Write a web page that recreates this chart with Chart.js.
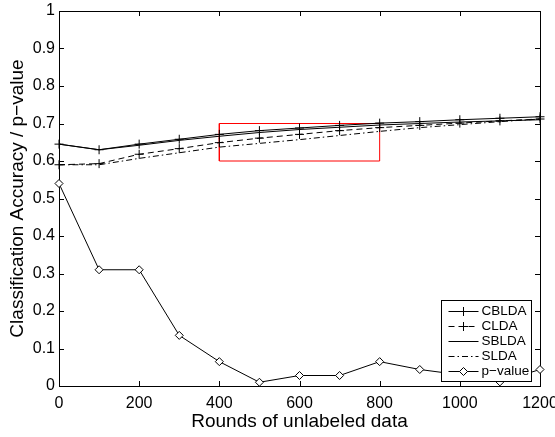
<!DOCTYPE html>
<html lang="en">
  <head>
    <meta charset="UTF-8" />
    <title>Classification Accuracy</title>
    <script src="https://cdn.jsdelivr.net/npm/chart.js"></script>
    <style>
      html, body { margin: 0; padding: 0; background: #fff; }
      #wrap { width: 555px; height: 437px; }
    </style>
  </head>
  <body>
    <div id="wrap"><canvas id="chart"></canvas></div>

    <script>
      // values
      const rounds = [0, 100, 200, 300, 400, 500, 600, 700, 800, 900, 1000, 1100, 1200];
      const cblda = [0.645, 0.630, 0.645, 0.658, 0.671, 0.681, 0.688, 0.695, 0.701, 0.705, 0.710, 0.714, 0.718];
      const clda = [0.590, 0.593, 0.618, 0.633, 0.649, 0.661, 0.671, 0.681, 0.689, 0.695, 0.701, 0.707, 0.712];
      const sblda = [0.645, 0.630, 0.642, 0.655, 0.666, 0.676, 0.684, 0.690, 0.696, 0.700, 0.704, 0.707, 0.710];
      const slda = [0.590, 0.590, 0.607, 0.622, 0.637, 0.647, 0.657, 0.668, 0.679, 0.689, 0.697, 0.705, 0.712];
      const pValue = [0.54, 0.31, 0.31, 0.135, 0.065, 0.01, 0.028, 0.028, 0.065, 0.044, 0.03, 0.011, 0.044];

      // red highlight rectangle (x and y corners)
      const boxX = [400, 800, 800, 400, 400];
      const boxY = [0.6, 0.6, 0.7, 0.7, 0.6];

      const xTicks = [0, 200, 400, 600, 800, 1000, 1200];
      const yTicks = [0, 0.1, 0.2, 0.3, 0.4, 0.5, 0.6, 0.7, 0.8, 0.9, 1];

      const FONT = "'Liberation Sans', Arial, sans-serif";
      const pts = (xs, ys) => xs.map((x, i) => ({ x: x, y: ys[i] }));

      // box around the plot with inward ticks, like matlab
      const frameTicks = {
        id: "frameTicks",
        beforeDatasetsDraw(chart) {
          const { ctx, chartArea: a, scales } = chart;
          ctx.save();
          ctx.strokeStyle = "#000";
          ctx.lineWidth = 1;
          ctx.beginPath();
          xTicks.forEach((v) => {
            const px = Math.round(scales.x.getPixelForValue(v)) + 0.5;
            ctx.moveTo(px, a.bottom); ctx.lineTo(px, a.bottom - 5);
            ctx.moveTo(px, a.top); ctx.lineTo(px, a.top + 5);
          });
          yTicks.forEach((v) => {
            const py = Math.round(scales.y.getPixelForValue(v)) + 0.5;
            ctx.moveTo(a.left, py); ctx.lineTo(a.left + 5, py);
            ctx.moveTo(a.right, py); ctx.lineTo(a.right - 5, py);
          });
          ctx.stroke();
          ctx.strokeRect(Math.round(a.left) + 0.5, Math.round(a.top) + 0.5,
            Math.round(a.right - a.left), Math.round(a.bottom - a.top));
          ctx.restore();
        },
      };

      // legend box in the lower right corner, line sample with marker on it
      const boxLegend = {
        id: "boxLegend",
        afterDatasetsDraw(chart) {
          const { ctx, chartArea: a } = chart;
          const w = 90, h = 81;
          const x0 = Math.round(a.right - 9 - w) + 0.5;
          const y0 = Math.round(a.bottom - 5 - h) + 0.5;
          ctx.save();
          ctx.fillStyle = "#fff";
          ctx.fillRect(x0, y0, w, h);
          ctx.strokeStyle = "#000";
          ctx.lineWidth = 1;
          ctx.strokeRect(x0, y0, w, h);
          ctx.font = "13.5px " + FONT;
          ctx.textBaseline = "middle";
          chart.data.datasets.forEach((ds, i) => {
            if (!ds.label) return;
            const y = Math.round(y0 + 10 + i * 15.1) + 0.5;
            ctx.strokeStyle = ds.borderColor;
            ctx.lineWidth = ds.borderWidth;
            ctx.setLineDash(ds.borderDash || []);
            ctx.beginPath();
            ctx.moveTo(x0 + 7, y);
            ctx.lineTo(x0 + 37, y);
            ctx.stroke();
            ctx.setLineDash([]);
            if (ds.pointRadius > 0) {
              ctx.fillStyle = ds.pointBackgroundColor || "#fff";
              ctx.strokeStyle = ds.pointBorderColor || "#000";
              ctx.lineWidth = 1;
              Chart.helpers.drawPoint(ctx, {
                pointStyle: ds.pointStyle, radius: ds.pointRadius, rotation: 0, borderWidth: 1,
              }, x0 + 22, y);
            }
            ctx.fillStyle = "#000";
            ctx.fillText(ds.label, x0 + 40, y);
          });
          ctx.restore();
        },
      };

      const base = {
        borderColor: "#000",
        borderWidth: 1,
        pointBorderColor: "#000",
        pointBackgroundColor: "#fff",
        pointBorderWidth: 1,
        tension: 0,
        clip: false,
      };

      new Chart(document.getElementById("chart"), {
        type: "line",
        data: {
          datasets: [
            { ...base, label: "CBLDA", data: pts(rounds, cblda), pointStyle: "cross", pointRadius: 4.5 },
            { ...base, label: "CLDA", data: pts(rounds, clda), pointStyle: "cross", pointRadius: 4.5, borderDash: [6, 4] },
            { ...base, label: "SBLDA", data: pts(rounds, sblda), pointRadius: 0 },
            { ...base, label: "SLDA", data: pts(rounds, slda), pointRadius: 0, borderDash: [6, 3, 1.5, 3] },
            { ...base, label: "p\u2212value", data: pts(rounds, pValue), pointStyle: "rectRot", pointRadius: 4 },
            { ...base, label: "", data: pts(boxX, boxY), borderColor: "#ff0000", pointRadius: 0 },
          ],
        },
        options: {
          responsive: true,
          maintainAspectRatio: false,
          animation: false,
          layout: { padding: { top: 11, right: 15, left: 0, bottom: 0 } },
          plugins: { legend: { display: false }, tooltip: { enabled: false } },
          scales: {
            x: {
              type: "linear",
              min: 0,
              max: 1200,
              afterBuildTicks: (s) => { s.ticks = xTicks.map((v) => ({ value: v })); },
              afterFit: (s) => { s.height = 51; s.paddingRight = 0; s.paddingLeft = 0; },
              grid: { display: false, drawTicks: false },
              border: { display: false },
              ticks: {
                color: "#000",
                padding: 8,
                maxRotation: 0,
                font: { family: FONT, size: 16 },
                callback: (v) => String(v),
              },
              title: {
                display: true,
                text: "Rounds of unlabeled data",
                color: "#000",
                padding: { top: 0, bottom: 4 },
                font: { family: FONT, size: 19 },
              },
            },
            y: {
              min: 0,
              max: 1,
              afterBuildTicks: (s) => { s.ticks = yTicks.map((v) => ({ value: v })); },
              afterFit: (s) => { s.width = 59; s.paddingTop = 0; s.paddingBottom = 0; },
              grid: { display: false, drawTicks: false },
              border: { display: false },
              ticks: {
                color: "#000",
                padding: 4,
                font: { family: FONT, size: 16 },
                callback: (v) => String(Math.round(v * 10) / 10),
              },
              title: {
                display: true,
                text: "Classification Accuracy / p\u2212value",
                color: "#000",
                padding: { top: 6, bottom: 0 },
                font: { family: FONT, size: 19 },
              },
            },
          },
        },
        plugins: [frameTicks, boxLegend],
      });
    </script>
  </body>
</html>
